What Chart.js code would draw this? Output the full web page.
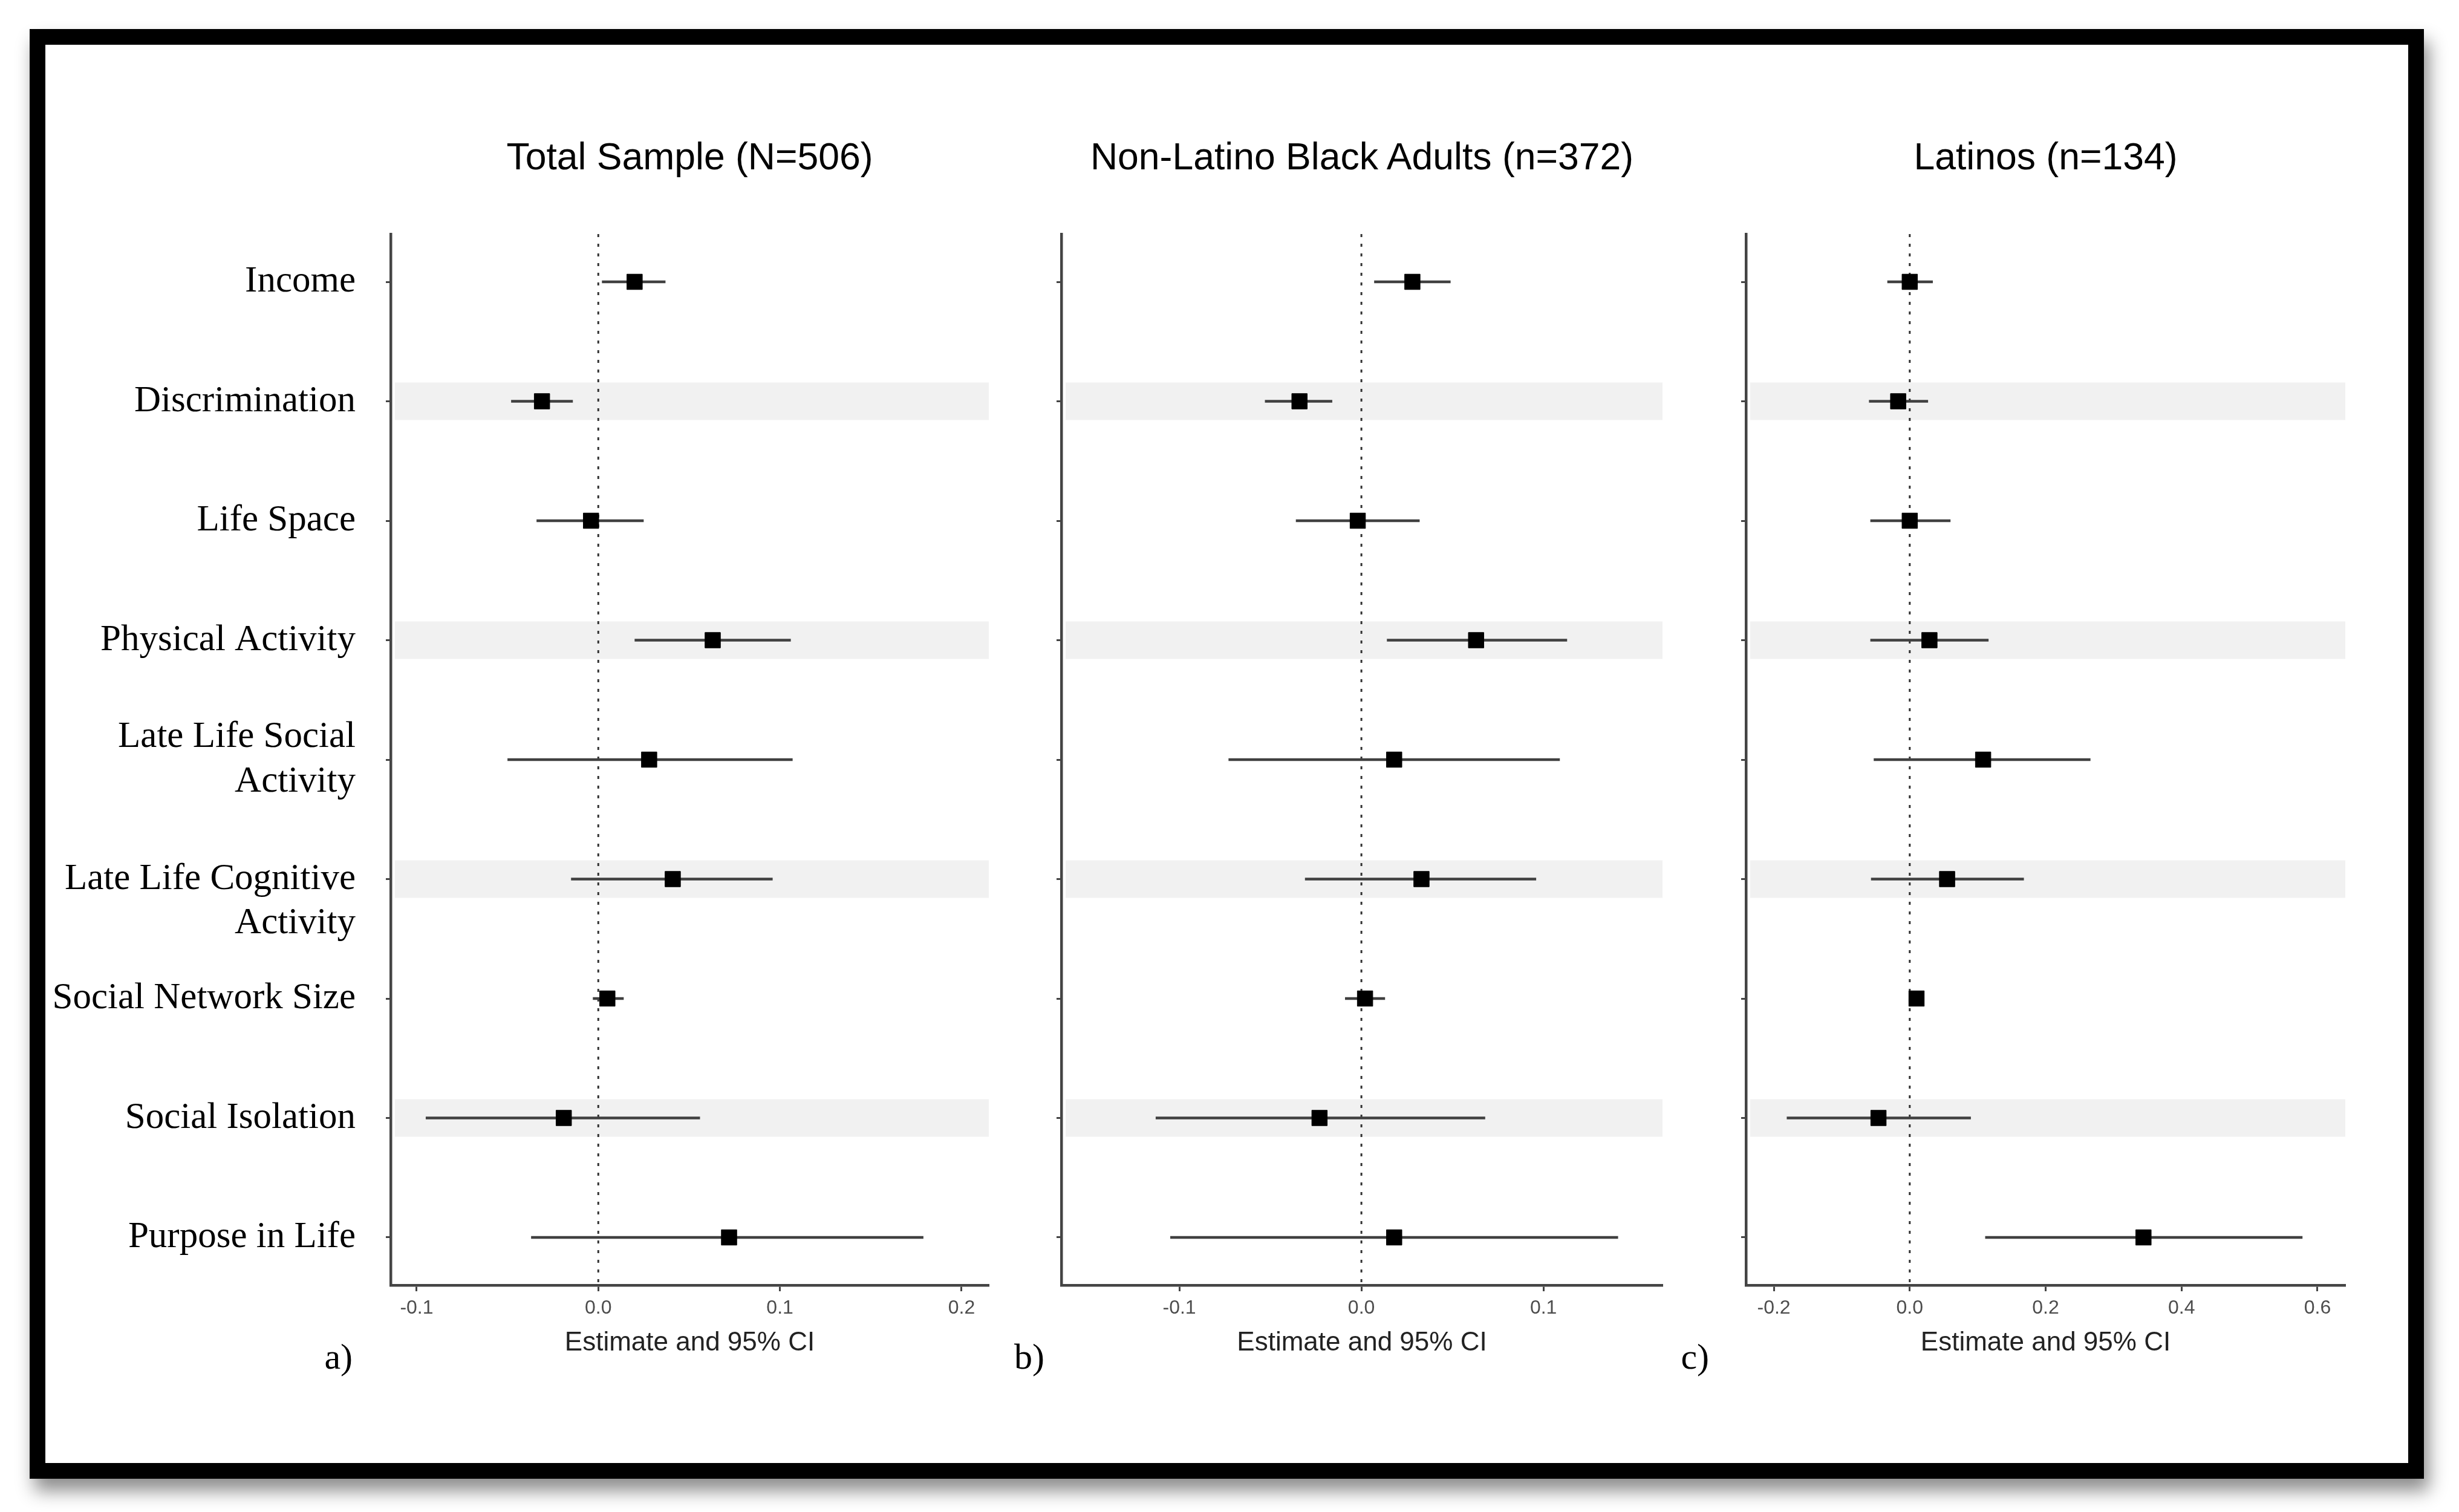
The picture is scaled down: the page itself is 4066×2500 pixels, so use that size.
<!DOCTYPE html>
<html>
<head>
<meta charset="utf-8">
<script src="https://cdn.jsdelivr.net/npm/chart.js@4.4.1/dist/chart.umd.min.js"></script>
<style>
  html, body { margin: 0; padding: 0; background: #ffffff; }
  body { width: 4066px; height: 2500px; position: relative; overflow: hidden; }
  #frame {
    position: absolute; left: 49px; top: 48px; width: 3959px; height: 2397px;
    box-sizing: border-box; border: 26px solid #000; background: #fff;
    box-shadow: 8px 20px 28px rgba(0,0,0,0.45);
  }
  canvas.panel { position: absolute; top: 300px; }
  .title {
    position: absolute; top: 258px; transform: translate(-50%, -50%);
    font-family: "Liberation Sans", Arial, sans-serif; font-size: 62.5px; color: #000;
    white-space: nowrap; z-index: 5;
  }
  .plabel {
    position: absolute; top: 2243px; transform: translate(-100%, -50%);
    font-family: "Liberation Serif", "Times New Roman", serif; font-size: 60px; color: #000;
    white-space: nowrap; z-index: 5;
  }
</style>
</head>
<body>
<div id="frame"></div>
<canvas id="cA" class="panel"></canvas>
<canvas id="cB" class="panel"></canvas>
<canvas id="cC" class="panel"></canvas>
<div class="title" id="tA"></div>
<div class="title" id="tB"></div>
<div class="title" id="tC"></div>
<div class="plabel" id="lA"></div>
<div class="plabel" id="lB"></div>
<div class="plabel" id="lC"></div>
<script>
// ---------- DATA ----------
const categories = ["Income", "Discrimination", "Life Space", "Physical Activity",
  ["Late Life Social", "Activity"], ["", "Late Life Cognitive", "Activity"],
  "Social Network Size", "Social Isolation", "Purpose in Life"];

const panelTitles = ["Total Sample (N=506)", "Non-Latino Black Adults (n=372)", "Latinos (n=134)"];
const panelLetters = ["a)", "b)", "c)"];
const axisTitle = "Estimate and 95% CI";

const totalEst = [0.020, -0.031, -0.004, 0.063, 0.028, 0.041, 0.005, -0.019, 0.072];
const totalLo  = [0.002, -0.048, -0.034, 0.020, -0.050, -0.015, -0.003, -0.095, -0.037];
const totalHi  = [0.037, -0.014, 0.025, 0.106, 0.107, 0.096, 0.014, 0.056, 0.179];

const blackEst = [0.028, -0.034, -0.002, 0.063, 0.018, 0.033, 0.002, -0.023, 0.018];
const blackLo  = [0.007, -0.053, -0.036, 0.014, -0.073, -0.031, -0.009, -0.113, -0.105];
const blackHi  = [0.049, -0.016, 0.032, 0.113, 0.109, 0.096, 0.013, 0.068, 0.141];

const latinoEst = [0.000, -0.017, 0.000, 0.029, 0.108, 0.055, 0.010, -0.046, 0.344];
const latinoLo  = [-0.033, -0.060, -0.058, -0.058, -0.053, -0.057, 0.002, -0.181, 0.111];
const latinoHi  = [0.034, 0.027, 0.060, 0.116, 0.266, 0.168, 0.018, 0.090, 0.578];

const totalTicks = [-0.1, 0.0, 0.1, 0.2];
const totalTickLabels = ["-0.1", "0.0", "0.1", "0.2"];
const blackTicks = [-0.1, 0.0, 0.1];
const blackTickLabels = ["-0.1", "0.0", "0.1"];
const latinoTicks = [-0.2, 0.0, 0.2, 0.4, 0.6];
const latinoTickLabels = ["-0.2", "0.0", "0.2", "0.4", "0.6"];

const totalRange = [-0.1143, 0.215];
const blackRange = [-0.1648, 0.1654];
const latinoRange = [-0.241, 0.641];

// ---------- STYLE / LAYOUT ----------
const AXIS_COLOR = "#444";
const BAND_COLOR = "#f1f1f1";
const BAND_HALF = 0.157;

const bandPlugin = {
  id: "bands",
  beforeDatasetsDraw(chart) {
    const {ctx, chartArea, scales} = chart;
    const y = scales.y, x = scales.x;
    ctx.save();
    ctx.fillStyle = BAND_COLOR;
    categories.forEach((c, i) => {
      if (i % 2 === 1) {
        const y0 = y.getPixelForValue(i - BAND_HALF);
        const y1 = y.getPixelForValue(i + BAND_HALF);
        ctx.fillRect(chartArea.left + 7, Math.min(y0, y1), chartArea.right - chartArea.left - 7, Math.abs(y1 - y0));
      }
    });
    // dotted zero line
    const x0 = x.getPixelForValue(0);
    ctx.strokeStyle = "#333";
    ctx.lineWidth = 3;
    ctx.setLineDash([5, 11]);
    ctx.beginPath();
    ctx.moveTo(x0, chartArea.top);
    ctx.lineTo(x0, chartArea.bottom);
    ctx.stroke();
    ctx.restore();
  }
};

function makePanel(canvasId, left, width, yWidth, est, lo, hi, range, ticks, tickLabels, showLabels) {
  const cv = document.getElementById(canvasId);
  cv.style.left = left + "px";
  cv.width = width; cv.height = 2000;
  cv.style.width = width + "px"; cv.style.height = "2000px";

  const datasets = [];
  datasets.push({
    type: "scatter",
    data: est.map((v, i) => ({x: v, y: i})),
    pointStyle: "rect",
    pointRadius: 18,
    pointHoverRadius: 18,
    backgroundColor: "#000",
    borderColor: "#000",
    borderWidth: 1,
    order: 0
  });
  lo.forEach((l, i) => {
    datasets.push({
      type: "scatter",
      showLine: true,
      data: [{x: l, y: i}, {x: hi[i], y: i}],
      borderColor: "#404040",
      borderWidth: 4.5,
      pointRadius: 0,
      pointHoverRadius: 0,
      order: 1
    });
  });

  return new Chart(cv, {
    type: "scatter",
    data: {datasets},
    plugins: [bandPlugin],
    options: {
      responsive: false,
      animation: false,
      events: [],
      layout: {padding: {top: 87, bottom: 53, left: 0, right: 20}},
      plugins: {legend: {display: false}, tooltip: {enabled: false}, title: {display: false}},
      scales: {
        x: {
          type: "linear",
          min: range[0], max: range[1],
          afterBuildTicks: (s) => { s.ticks = ticks.map(v => ({value: v})); },
          afterFit: (s) => { s.height = 122; },
          ticks: {
            callback: (v, i) => tickLabels[i],
            font: {family: "Liberation Sans, Arial, sans-serif", size: 32},
            color: "#4d4d4d",
            padding: 9,
            maxRotation: 0,
            autoSkip: false
          },
          grid: {drawOnChartArea: false, drawTicks: true, tickLength: 10, tickColor: AXIS_COLOR, tickWidth: 3},
          border: {display: true, color: AXIS_COLOR, width: 4.5},
          title: {
            display: true, text: axisTitle,
            font: {family: "Liberation Sans, Arial, sans-serif", size: 44},
            color: "#222",
            padding: {top: 0, bottom: 0}
          }
        },
        y: {
          type: "linear",
          reverse: true,
          min: -0.4, max: 8.4,
          afterBuildTicks: (s) => { s.ticks = categories.map((c, i) => ({value: i})); },
          afterFit: (s) => { s.width = yWidth; },
          ticks: {
            callback: (v, i) => showLabels ? categories[i] : "",
            font: {family: "Liberation Serif, Times New Roman, serif", size: 61, lineHeight: 1.2},
            color: "#000",
            padding: 50,
            autoSkip: false
          },
          grid: {drawOnChartArea: false, drawTicks: true, tickLength: 8, tickColor: AXIS_COLOR, tickWidth: 3},
          border: {display: true, color: AXIS_COLOR, width: 4.5}
        }
      }
    }
  });
}

const charts = [
  makePanel("cA", 75, 1580, 571, totalEst, totalLo, totalHi, totalRange, totalTicks, totalTickLabels, true),
  makePanel("cB", 1660, 1109, 95, blackEst, blackLo, blackHi, blackRange, blackTicks, blackTickLabels, false),
  makePanel("cC", 2780, 1118, 107, latinoEst, latinoLo, latinoHi, latinoRange, latinoTicks, latinoTickLabels, false)
];
const lefts = [75, 1660, 2780];
const titleIds = ["tA", "tB", "tC"];
const letterIds = ["lA", "lB", "lC"];
const letterRight = [583, 1727, 2826];
charts.forEach((ch, k) => {
  const a = ch.chartArea;
  const t = document.getElementById(titleIds[k]);
  t.textContent = panelTitles[k];
  t.style.left = (lefts[k] + (a.left + a.right) / 2) + "px";
  const l = document.getElementById(letterIds[k]);
  l.textContent = panelLetters[k];
  l.style.left = letterRight[k] + "px";
});
</script>
</body>
</html>
